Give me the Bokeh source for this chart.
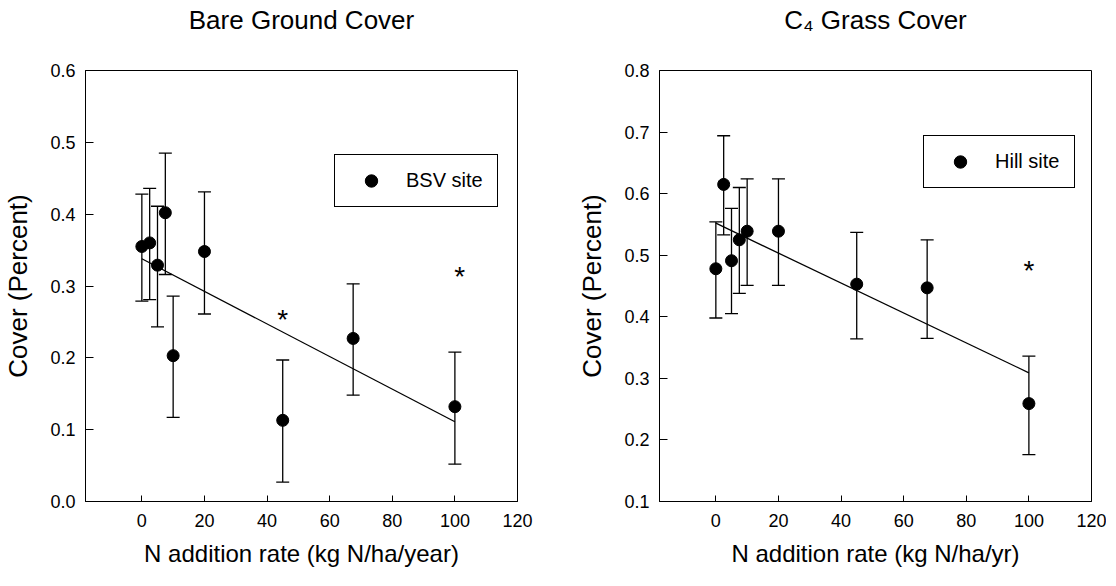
from bokeh.plotting import figure
from bokeh.models import Whisker, TeeHead, ColumnDataSource, FixedTicker, PrintfTickFormatter, Title
from bokeh.layouts import row
from bokeh.embed import file_html
from bokeh.resources import INLINE
from bokeh.core.properties import value

# ---------------- data ----------------
n_rate = [0, 2.5, 5, 7.5, 10, 20, 45, 67.5, 100]

bsv_mean = [0.355, 0.360, 0.329, 0.402, 0.203, 0.348, 0.113, 0.227, 0.132]
bsv_upper = [0.428, 0.436, 0.411, 0.485, 0.286, 0.431, 0.197, 0.303, 0.208]
bsv_lower = [0.279, 0.281, 0.243, 0.316, 0.117, 0.261, 0.027, 0.148, 0.052]
bsv_fit_x = [0, 100]
bsv_fit_y = [0.338, 0.111]
bsv_sig_x = [45, 101.5]
bsv_sig_y = [0.255, 0.314]

hill_mean = [0.478, 0.615, 0.491, 0.525, 0.539, 0.539, 0.453, 0.447, 0.259]
hill_upper = [0.554, 0.694, 0.576, 0.610, 0.624, 0.624, 0.537, 0.525, 0.336]
hill_lower = [0.398, 0.533, 0.405, 0.438, 0.451, 0.451, 0.364, 0.365, 0.176]
hill_fit_x = [0, 100]
hill_fit_y = [0.552, 0.309]
hill_sig_x = [100]
hill_sig_y = [0.476]

x_ticks = [0, 20, 40, 60, 80, 100, 120]
bsv_y_ticks = [0.0, 0.1, 0.2, 0.3, 0.4, 0.5, 0.6]
hill_y_ticks = [0.1, 0.2, 0.3, 0.4, 0.5, 0.6, 0.7, 0.8]

FONT = "Liberation Sans"
FRAME_W = 432
FRAME_H = 431


def make_panel(title, xlabel, ylabel, mean, upper, lower, fit_x, fit_y,
               sig_x, sig_y, y_range, y_ticks, label, label_w, legend_loc, border_right):
    p = figure(frame_width=FRAME_W, frame_height=FRAME_H, x_range=(-18, 120), y_range=y_range,
               output_backend="svg", toolbar_location=None, title=None,
               min_border_left=82, min_border_right=border_right,
               min_border_top=70, min_border_bottom=69)
    p.background_fill_color = "white"
    p.border_fill_color = "white"
    p.outline_line_color = "black"
    p.outline_line_width = 1
    p.outline_line_alpha = 1
    p.xgrid.visible = False
    p.ygrid.visible = False

    # spacer between frame and title, then the title itself (farther from frame)
    p.add_layout(Title(text=" ", text_font_size="1px", standoff=33), "above")
    p.add_layout(Title(text=title, align="center", standoff=0, text_font=FONT,
                       text_font_size="26px", text_font_style="normal",
                       text_color="black"), "above")

    for ax in (p.xaxis[0], p.yaxis[0]):
        ax.axis_line_color = "black"
        ax.major_tick_line_color = "black"
        ax.minor_tick_line_color = None
        ax.major_tick_out = 0
        ax.major_label_text_font = FONT
        ax.major_label_text_font_size = "18px"
        ax.major_label_text_color = "black"
        ax.axis_label_text_font = FONT
        ax.axis_label_text_font_style = "normal"
        ax.axis_label_text_color = "black"

    p.xaxis.ticker = FixedTicker(ticks=x_ticks)
    p.xaxis.major_tick_in = 6
    p.xaxis.major_label_standoff = 12
    p.xaxis.axis_label = xlabel
    p.xaxis.axis_label_text_font_size = "24px"
    p.xaxis.axis_label_standoff = 10

    p.yaxis.ticker = FixedTicker(ticks=y_ticks)
    p.yaxis.formatter = PrintfTickFormatter(format="%.1f")
    p.yaxis.major_tick_in = 8
    p.yaxis.major_label_standoff = 10
    p.yaxis.axis_label = ylabel
    p.yaxis.axis_label_text_font_size = "26px"
    p.yaxis.axis_label_standoff = 14

    src = ColumnDataSource(dict(x=n_rate, y=mean, upper=upper, lower=lower))
    whisk = Whisker(source=src, base="x", upper="upper", lower="lower",
                    dimension="height", line_color="black", line_width=1.3,
                    upper_head=TeeHead(size=13, line_color="black", line_width=1.3),
                    lower_head=TeeHead(size=13, line_color="black", line_width=1.3))
    whisk.level = "glyph"
    p.add_layout(whisk)

    p.line(fit_x, fit_y, line_color="black", line_width=1.3)
    p.scatter("x", "y", source=src, size=12, color="black", legend_label=label)

    p.text(x=sig_x, y=sig_y, text=["*"] * len(sig_x), text_font=value(FONT),
           text_font_size="28px", text_align="center", text_baseline="alphabetic",
           y_offset=1, text_color="black")

    lg = p.legend[0]
    lg.location = legend_loc
    lg.margin = 0
    lg.padding = 10
    lg.glyph_width = 52
    lg.glyph_height = 31
    lg.label_height = 31
    lg.label_width = label_w
    lg.label_standoff = 9
    lg.label_text_font = FONT
    lg.label_text_font_size = "20px"
    lg.label_text_color = "black"
    lg.border_line_color = "black"
    lg.border_line_width = 1
    lg.border_line_alpha = 1
    lg.background_fill_alpha = 1
    return p


p1 = make_panel("Bare Ground Cover", "N addition rate (kg N/ha/year)", "Cover (Percent)",
                bsv_mean, bsv_upper, bsv_lower, bsv_fit_x, bsv_fit_y,
                bsv_sig_x, bsv_sig_y, (0.0, 0.6), bsv_y_ticks, "BSV site", 81, (249, 294), 57)
p2 = make_panel("C\u2084 Grass Cover", "N addition rate (kg N/ha/yr)", "Cover (Percent)",
                hill_mean, hill_upper, hill_lower, hill_fit_x, hill_fit_y,
                hill_sig_x, hill_sig_y, (0.1, 0.8), hill_y_ticks, "Hill site", 69, (264, 313), 15)

layout = row(p1, p2)
open("out.html", "w").write(file_html(layout, INLINE))
